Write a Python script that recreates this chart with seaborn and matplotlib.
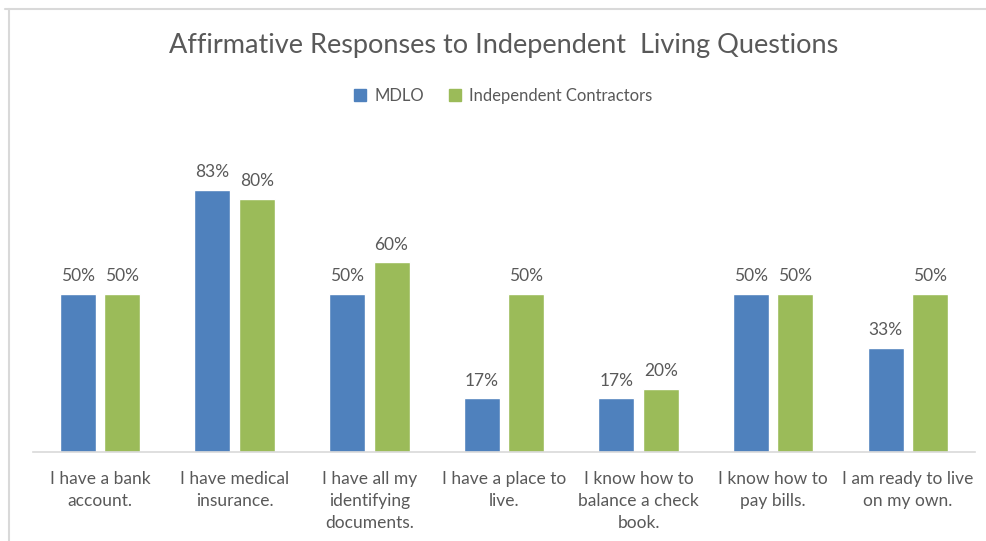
import pandas as pd
import matplotlib
matplotlib.use("Agg")
import matplotlib.pyplot as plt
from matplotlib.lines import Line2D
import seaborn as sns

questions = [
    "I have a bank\naccount.",
    "I have medical\ninsurance.",
    "I have all my\nidentifying\ndocuments.",
    "I have a place to\nlive.",
    "I know how to\nbalance a check\nbook.",
    "I know how to\npay bills.",
    "I am ready to live\non my own.",
]
mdlo = [0.50, 0.83, 0.50, 0.17, 0.17, 0.50, 0.33]
contractors = [0.50, 0.80, 0.60, 0.50, 0.20, 0.50, 0.50]
groups = ["MDLO", "Independent Contractors"]

df = pd.DataFrame({
    "question": questions * 2,
    "share": mdlo + contractors,
    "group": [groups[0]] * len(questions) + [groups[1]] * len(questions),
})

sns.set_theme(style="white")
plt.rcParams["font.family"] = ["Lato", "DejaVu Sans"]
text_color = "#595959"

fig = plt.figure(figsize=(9.87, 5.41), dpi=100)
ax = fig.add_axes([0.0331, 0.1645, 0.955, 0.5257])

sns.barplot(
    data=df, x="question", y="share", hue="group", ax=ax,
    palette=["#4F81BD", "#9BBB59"], width=0.66, gap=0.19,
    saturation=1, errorbar=None, legend=False,
)

for cont in ax.containers:
    ax.bar_label(cont, labels=[f"{v * 100:.0f}%" for v in cont.datavalues],
                 padding=7, fontsize=12.5, color=text_color)

ax.set_ylim(0, 0.9)
ax.set_xlim(-0.5, len(questions) - 0.5)
ax.set_yticks([])
ax.set_xlabel("")
ax.set_ylabel("")
for side in ["top", "left", "right"]:
    ax.spines[side].set_visible(False)
ax.spines["bottom"].set_color("#d9d9d9")
ax.spines["bottom"].set_linewidth(1.2)
ax.tick_params(axis="x", length=0, pad=14, labelsize=12.5, labelcolor=text_color)
for lbl in ax.get_xticklabels():
    lbl.set_linespacing(1.45)

fig.text(0.51, 0.915, "Affirmative Responses to Independent  Living Questions",
         ha="center", va="center", fontsize=19.5, color=text_color)

handles = [plt.Rectangle((0, 0), 1, 1, color=c) for c in ["#4F81BD", "#9BBB59"]]
fig.legend(handles, groups, loc="center", bbox_to_anchor=(0.51, 0.823), ncol=2,
           frameon=False, fontsize=12, labelcolor=text_color,
           handlelength=0.7, handleheight=0.7, handletextpad=0.5, columnspacing=1.5)

# light chart-area frame (top and left edges visible)
fig.add_artist(Line2D([0.005, 1.0], [0.983, 0.983], color="#d9d9d9", lw=1.5))
fig.add_artist(Line2D([0.009, 0.009], [0.0, 0.983], color="#d9d9d9", lw=1.5))

fig.savefig("out.png", dpi=100)
